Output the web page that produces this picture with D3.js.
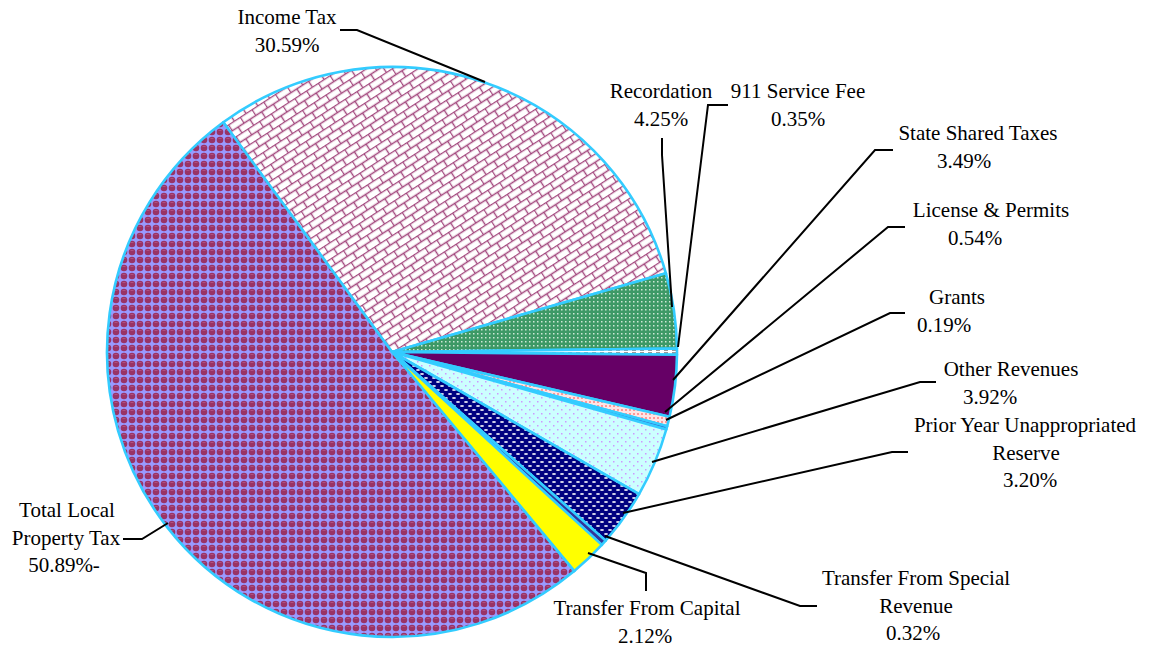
<!DOCTYPE html>
<html>
<head>
<meta charset="utf-8">
<script src="https://cdn.jsdelivr.net/npm/d3@7"></script>
<style>
  body { margin: 0; background: #fff; }
  text { font-family: "Liberation Serif", "Times New Roman", serif; font-size: 21px; fill: #000; }
</style>
</head>
<body>
<div id="chart"></div>
<script>
// Data (percent of revenue)
var categories = ["Income Tax", "Recordation", "911 Service Fee", "State Shared Taxes",
    "License & Permits", "Grants", "Other Revenues", "Prior Year Unappropriated Reserve",
    "Transfer From Special Revenue", "Transfer From Capital", "Total Local Property Tax"];
var values = [30.59, 4.25, 0.35, 3.49, 0.54, 0.19, 3.92, 3.20, 0.32, 2.12, 50.89];
// label text as it wraps in the picture
var labelLines = [
    ["Income Tax"], ["Recordation"], ["911 Service Fee"], ["State Shared Taxes"],
    ["License & Permits"], ["Grants"], ["Other Revenues"], ["Prior Year Unappropriated", "Reserve"],
    ["Transfer From Special", "Revenue"], ["Transfer From Capital"], ["Total Local", "Property Tax"]
];
var pctSuffix = ["", "", "", "", "", "", "", "", "", "", "-"];

var width = 1151, height = 650;
var cx = 392, cy = 352, radius = 285;

// fill for each slice (pattern id or colour)
var fills = ["url(#brick)", "url(#greenDots)", "url(#grayDash)", "#660066", "url(#pinkDots)",
    "#3366CC", "url(#cyanDots)", "url(#navyDots)", "#333399", "#FFFF00", "url(#maroonBalls)"];

// label placement: x of each text line, first baseline, leader polyline
var labelPos = [
    {x: [287, 287], y: 24, lead: [[340, 30], [357, 30], [485, 82]]},
    {x: [661, 661], y: 98, lead: [[662, 138], [662, 155], [672, 307]]},
    {x: [798, 798], y: 98, lead: [[728, 105], [708, 105], [678, 347]]},
    {x: [978, 964], y: 140, lead: [[893, 150], [875, 150], [673, 380]]},
    {x: [991, 975], y: 217, lead: [[905, 227], [888, 227], [665, 412]]},
    {x: [957, 944], y: 304, lead: [[905, 313], [890, 313], [666, 420]]},
    {x: [1011, 990], y: 376, lead: [[936, 382], [920, 382], [652, 462]]},
    {x: [1025, 1026, 1030], y: 432, lead: [[908, 452], [892, 452], [623, 513]]},
    {x: [916, 916, 913], y: 585, lead: [[817, 606], [800, 606], [605, 536]]},
    {x: [647, 645], y: 615, lead: [[646, 591], [646, 573], [588, 553]]},
    {x: [67, 66, 64], y: 517, lead: [[123, 539], [142, 539], [168, 523]]}
];

var svg = d3.select("#chart").append("svg")
    .attr("width", width)
    .attr("height", height);

// --- patterns ---
var defs = svg.append("defs");

var brick = defs.append("pattern").attr("id", "brick")
    .attr("patternUnits", "userSpaceOnUse").attr("width", 14).attr("height", 14)
    .attr("patternTransform", "rotate(-33)");
brick.append("rect").attr("width", 14).attr("height", 14).attr("fill", "#fff");
brick.append("path").attr("d", "M0,0.5H14M0,7.5H14M0.5,0V7.5M7.5,7.5V14")
    .attr("stroke", "#A3487E").attr("stroke-width", 1.4).attr("fill", "none");

var balls = defs.append("pattern").attr("id", "maroonBalls")
    .attr("patternUnits", "userSpaceOnUse").attr("width", 8).attr("height", 8);
balls.append("rect").attr("width", 8).attr("height", 8).attr("fill", "#9999FF");
balls.append("circle").attr("cx", 4).attr("cy", 4).attr("r", 3.3).attr("fill", "#993366");
balls.append("rect").attr("x", 2.5).attr("y", 2).attr("width", 3).attr("height", 1).attr("fill", "#B05080");

var green = defs.append("pattern").attr("id", "greenDots")
    .attr("patternUnits", "userSpaceOnUse").attr("width", 4).attr("height", 4);
green.append("rect").attr("width", 4).attr("height", 4).attr("fill", "#3D9966");
green.append("rect").attr("x", 1).attr("y", 1).attr("width", 1.5).attr("height", 1.5).attr("fill", "#CDE8D5");

var gray = defs.append("pattern").attr("id", "grayDash")
    .attr("patternUnits", "userSpaceOnUse").attr("width", 8).attr("height", 3);
gray.append("rect").attr("width", 8).attr("height", 3).attr("fill", "#fff");
gray.append("rect").attr("width", 4).attr("height", 2).attr("fill", "#999");

var pink = defs.append("pattern").attr("id", "pinkDots")
    .attr("patternUnits", "userSpaceOnUse").attr("width", 4).attr("height", 4);
pink.append("rect").attr("width", 4).attr("height", 4).attr("fill", "#FFE4E4");
pink.append("rect").attr("x", 1).attr("y", 1).attr("width", 2).attr("height", 2).attr("fill", "#FF9999");

var cyan = defs.append("pattern").attr("id", "cyanDots")
    .attr("patternUnits", "userSpaceOnUse").attr("width", 8).attr("height", 8);
cyan.append("rect").attr("width", 8).attr("height", 8).attr("fill", "#CCFFFF");
cyan.append("rect").attr("x", 1).attr("y", 1).attr("width", 1.5).attr("height", 1.5).attr("fill", "#CC99FF");
cyan.append("rect").attr("x", 5).attr("y", 5).attr("width", 1.5).attr("height", 1.5).attr("fill", "#CC99FF");

var navy = defs.append("pattern").attr("id", "navyDots")
    .attr("patternUnits", "userSpaceOnUse").attr("width", 8).attr("height", 8);
navy.append("rect").attr("width", 8).attr("height", 8).attr("fill", "#000080");
navy.append("ellipse").attr("cx", 2).attr("cy", 2).attr("rx", 2).attr("ry", 1).attr("fill", "#E0E0F0");
navy.append("ellipse").attr("cx", 6).attr("cy", 6).attr("rx", 2).attr("ry", 1).attr("fill", "#E0E0F0");

// --- pie ---
var data = categories.map(function(c, i) {
    return {name: c, value: values[i], i: i};
});

var pie = d3.pie()
    .sort(null)
    .value(function(d) { return d.value; })
    .startAngle(-36.3 * Math.PI / 180)
    .endAngle((360 - 36.3) * Math.PI / 180);

var arc = d3.arc().innerRadius(0).outerRadius(radius);

var g = svg.append("g").attr("transform", "translate(" + cx + "," + cy + ")");

g.selectAll("path.slice")
    .data(pie(data))
    .enter().append("path")
        .attr("class", "slice")
        .attr("d", arc)
        .attr("fill", function(d) { return fills[d.data.i]; })
        .attr("stroke", "#33CCFF")
        .attr("stroke-width", 2.6)
        .attr("stroke-linejoin", "round");

// --- leader lines ---
var line = d3.line();
svg.selectAll("path.leader")
    .data(labelPos)
    .enter().append("path")
        .attr("class", "leader")
        .attr("d", function(d) { return line(d.lead); })
        .attr("fill", "none")
        .attr("stroke", "#000")
        .attr("stroke-width", 2);

// --- labels ---
labelPos.forEach(function(p, i) {
    var lines = labelLines[i].concat([values[i].toFixed(2) + "%" + pctSuffix[i]]);
    var t = svg.append("text").attr("text-anchor", "middle");
    lines.forEach(function(s, k) {
        t.append("tspan")
            .attr("x", p.x[k])
            .attr("y", p.y + k * 27.5)
            .text(s);
    });
});
</script>
</body>
</html>
